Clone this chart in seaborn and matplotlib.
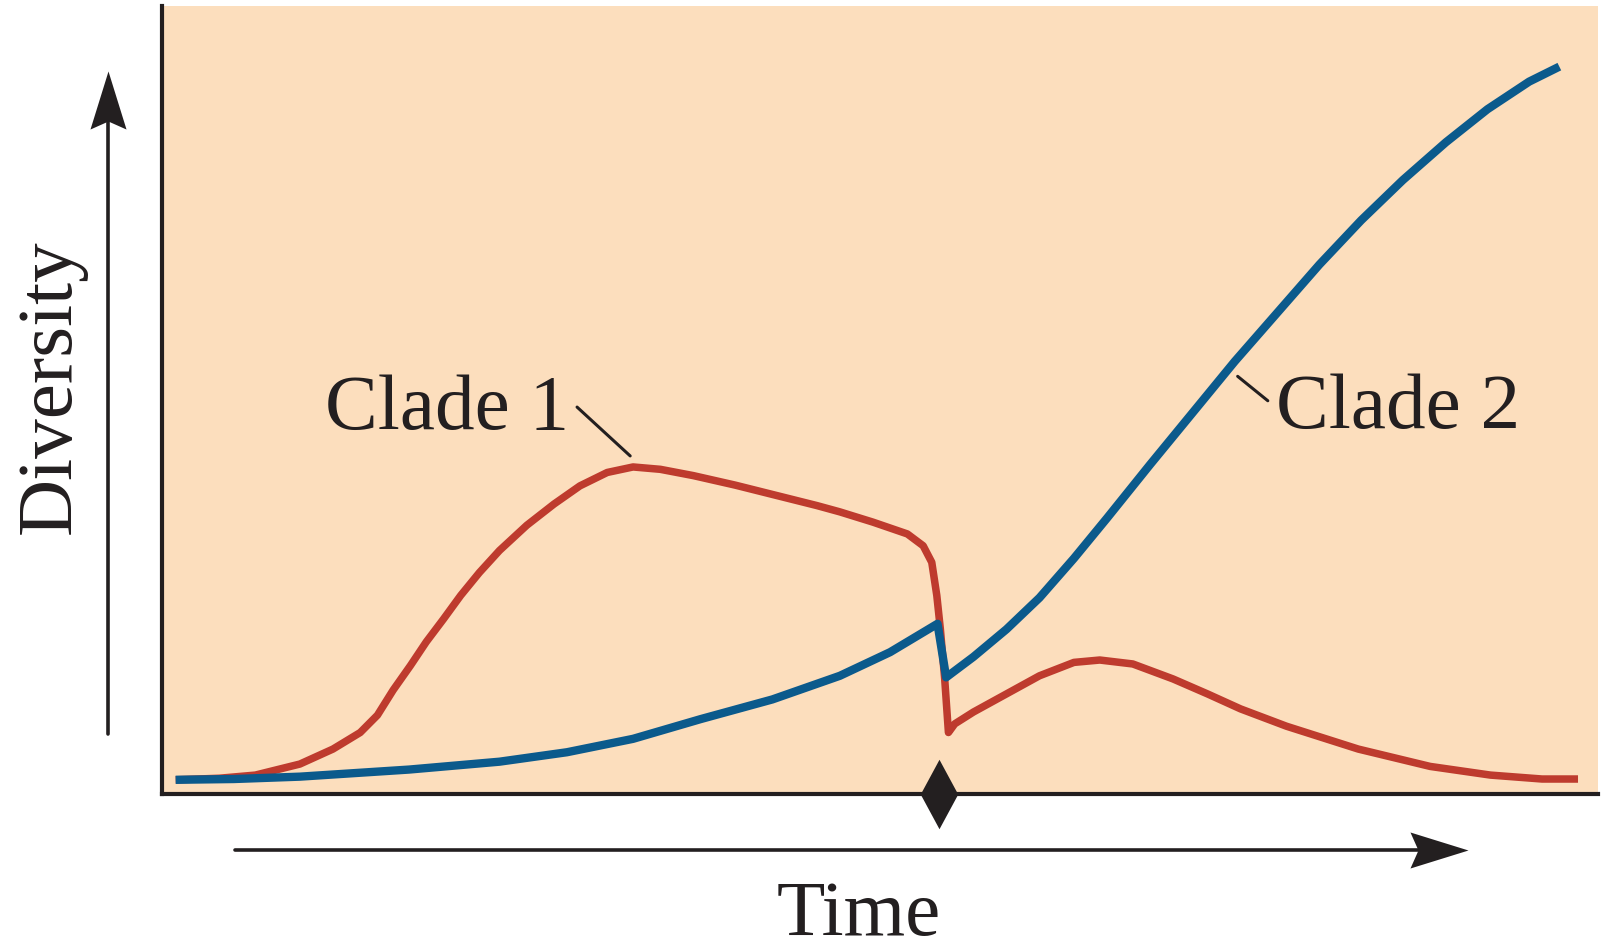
import matplotlib
matplotlib.use("Agg")
import matplotlib.pyplot as plt
from matplotlib.lines import Line2D
import pandas as pd
import seaborn as sns

# values (time and diversity on a 0-100 scale)
clade1_time = [0.95, 4.0, 6.5, 9.6, 11.9, 13.8, 15.0, 16.1, 17.3, 18.4, 19.6, 20.8,
               22.1, 23.5, 25.4, 27.3, 29.1, 31.0, 32.8, 34.7, 37.0, 39.9, 45.6,
               47.2, 49.5, 51.9, 53.0, 53.6, 53.95, 54.2, 54.5, 54.76, 55.2, 56.5,
               58.8, 61.1, 63.5, 65.3, 67.6, 70.4, 72.8, 75.1, 78.3, 83.3, 88.3,
               92.5, 96.1, 98.6]
clade1_div = [1.8, 2.0, 2.4, 3.8, 5.7, 7.8, 10.0, 13.2, 16.3, 19.3, 22.2, 25.2,
              28.1, 30.9, 34.1, 36.8, 39.1, 40.8, 41.5, 41.2, 40.4, 39.2, 36.6,
              35.8, 34.5, 33.0, 31.5, 29.4, 25.2, 20.9, 14.6, 7.8, 8.9, 10.4,
              12.7, 15.0, 16.7, 17.0, 16.5, 14.6, 12.7, 10.8, 8.6, 5.7, 3.5,
              2.4, 1.9, 1.9]

clade2_time = [0.95, 5.0, 9.6, 17.2, 23.5, 28.2, 32.8, 37.5, 42.5, 47.2, 50.7, 54.0,
               54.6, 56.5, 58.8, 61.1, 63.5, 65.8, 68.8, 74.7, 80.6, 83.5, 86.4,
               89.4, 92.3, 95.2, 97.3]
clade2_div = [1.8, 1.9, 2.2, 3.1, 4.1, 5.3, 7.0, 9.5, 12.0, 15.0, 18.0, 21.6,
              14.8, 17.4, 20.9, 24.9, 29.9, 35.0, 41.8, 54.9, 67.2, 72.8, 77.9,
              82.7, 86.9, 90.4, 92.3]

event_time = 54.1
labels = ["Clade 1", "Clade 2"]

bg = "#FCDEBD"
red = "#BE3B2E"
blue = "#0B5A8C"
ink = "#231F20"

sns.set_theme(style="white")
plt.rcParams["font.family"] = ["Liberation Serif", "DejaVu Serif"]

df1 = pd.DataFrame({"Time": clade1_time, "Diversity": clade1_div})
df2 = pd.DataFrame({"Time": clade2_time, "Diversity": clade2_div})

fig = plt.figure(figsize=(16.01, 9.53), dpi=100)
ax = fig.add_axes([0.1012, 0.1658, 0.897, 0.8269])
ax.set_facecolor(bg)

sns.lineplot(x="Time", y="Diversity", data=df1, color=red, linewidth=5.4, sort=False,
             ax=ax, solid_joinstyle="round", solid_capstyle="butt")
sns.lineplot(x="Time", y="Diversity", data=df2, color=blue, linewidth=6.0, sort=False,
             ax=ax, solid_joinstyle="round", solid_capstyle="butt")

# extinction event marker on the time axis
ax.plot([event_time], [0], marker=[(0, 1), (0.54, 0), (0, -1), (-0.54, 0)],
        markersize=50, mew=0, color=ink, clip_on=False, zorder=5)

ax.set_xlim(0, 100)
ax.set_ylim(0, 100)
ax.set_xticks([])
ax.set_yticks([])
ax.set_xlabel("")
ax.set_ylabel("")
for side in ["top", "right"]:
    ax.spines[side].set_visible(False)
for side in ["left", "bottom"]:
    ax.spines[side].set_color(ink)
    ax.spines[side].set_linewidth(3)

# curve labels with leader lines
ax.text(19.85, 46.4, labels[0], ha="center", va="baseline", fontsize=57, color=ink)
ax.plot([28.9, 32.6], [49.1, 42.9], color=ink, lw=2.2)
ax.text(86.1, 46.6, labels[1], ha="center", va="baseline", fontsize=57, color=ink)
ax.plot([74.9, 77.0], [53.0, 49.9], color=ink, lw=2.2)

# axis arrows with notched heads, outside the box
head_up = [(0, 29), (18, -29), (0, -21), (-18, -29)]
head_right = [(29, 0), (-29, 18), (-21, 0), (-29, -18)]
fig.add_artist(Line2D([0.0675, 0.0675], [0.2288, 0.8793], transform=fig.transFigure,
                      color=ink, lw=2.6))
fig.add_artist(Line2D([0.0675], [0.894], transform=fig.transFigure, ls="none",
                      marker=head_up, markersize=41.8, mew=0, color=ink))
fig.add_artist(Line2D([0.1468, 0.890], [0.107, 0.107], transform=fig.transFigure,
                      color=ink, lw=2.6))
fig.add_artist(Line2D([0.8988], [0.107], transform=fig.transFigure, ls="none",
                      marker=head_right, markersize=41.8, mew=0, color=ink))

fig.text(0.5362, 18 / 953, "Time", ha="center", va="baseline",
         fontsize=57, color=ink)
fig.text(70 / 1601, 0.594, "Diversity", ha="center", va="baseline", rotation=90,
         rotation_mode="anchor", fontsize=57, color=ink)

fig.savefig("out.png", dpi=100, facecolor="white")
